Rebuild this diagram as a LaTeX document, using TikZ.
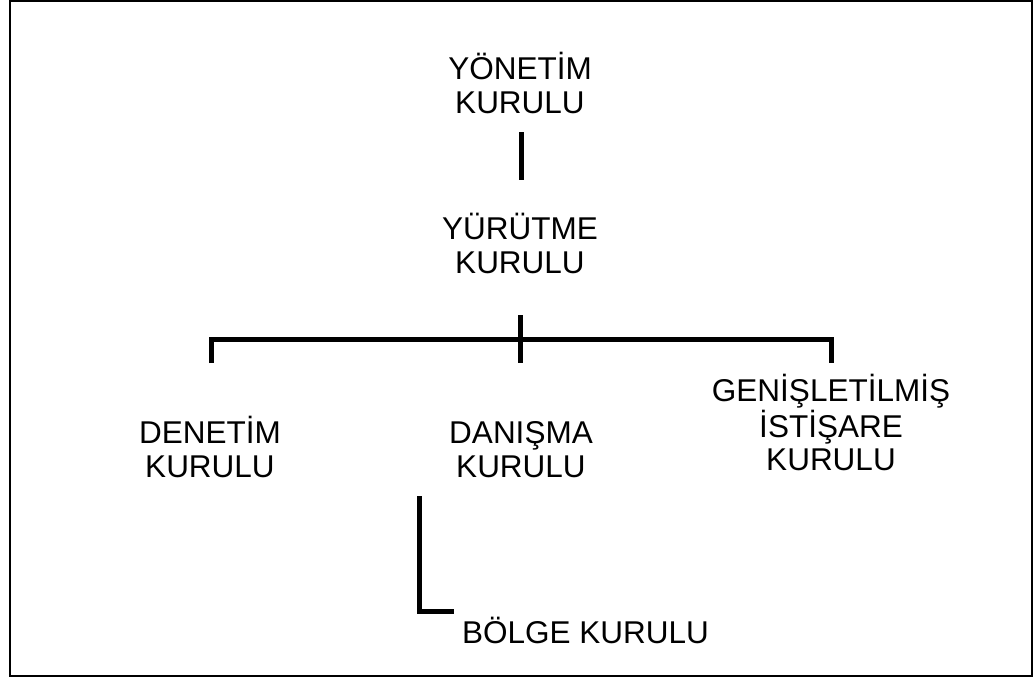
\documentclass[tikz,border=0pt]{standalone}
\usepackage{fontspec}
\setmainfont{Liberation Sans}
\begin{document}
\begin{tikzpicture}[x=1pt,y=-1pt,
  label text/.style={font=\fontsize{31.5}{34}\selectfont, align=center, inner sep=0pt, anchor=base},
  tree line/.style={line width=5pt},
  frame line/.style={line width=2pt}]
  \useasboundingbox (0,0) rectangle (1033,677);
  \draw[frame line] (9.5,1.5) rectangle (1031.5,675.5);

  % boards (node base = baseline of the last line)
  \node[label text] (yk) at (520,113) {YÖNETİM\\KURULU};
  \node[label text] (yu) at (520,273) {YÜRÜTME\\KURULU};
  \node[label text] (dn) at (210,477) {DENETİM\\KURULU};
  \node[label text] (da) at (521,477) {DANIŞMA\\KURULU};
  \node[label text, font=\fontsize{31.5}{33}\selectfont] (gi) at (831,470) {GENİŞLETİLMİŞ\\İSTİŞARE\\KURULU};
  \node[label text, anchor=base west] (bk) at (462,643) {BÖLGE KURULU};

  % connector end points
  \coordinate (ykTop) at (521,132);
  \coordinate (ykBot) at (521,180);
  \coordinate (busTop) at (520,315);
  \coordinate (busBot) at (520,363);
  \coordinate (busL) at (211.5,339.5);
  \coordinate (busR) at (831.5,339.5);
  \coordinate (dnTop) at (211.5,363);
  \coordinate (giTop) at (831.5,363);
  \coordinate (daBot) at (419.5,496);
  \coordinate (bkCorner) at (419.5,611.5);
  \coordinate (bkEnd) at (454,611.5);

  \draw[tree line] (ykTop) -- (ykBot);
  \draw[tree line] (busTop) -- (busBot);
  \draw[tree line] (dnTop) -- (busL) -- (busR) -- (giTop);
  \draw[tree line] (daBot) -- (bkCorner) -- (bkEnd);
\end{tikzpicture}
\end{document}
